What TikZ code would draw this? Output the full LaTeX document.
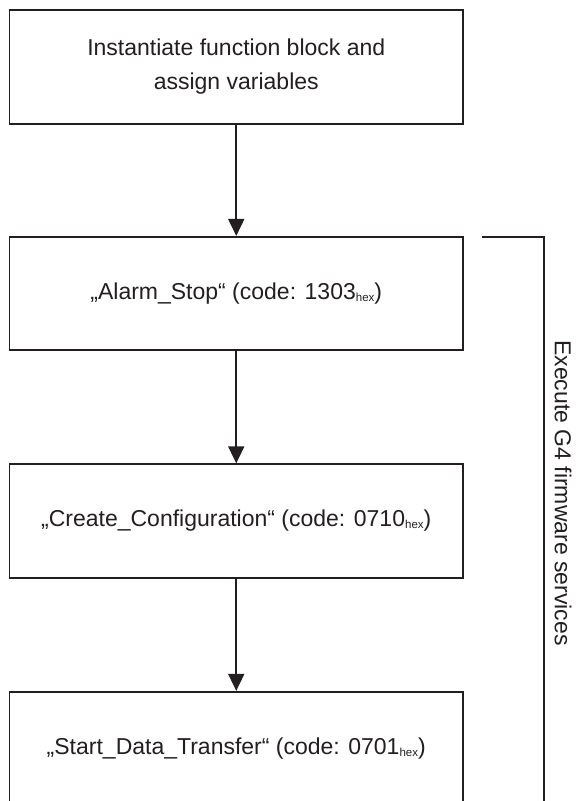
\documentclass[tikz,border=0pt]{standalone}
\usepackage{fontspec}
\setmainfont{Liberation Sans}
\usetikzlibrary{arrows.meta}
\definecolor{ink}{HTML}{231F20}
\newcommand{\hexsub}{\raisebox{-2pt}{\fontsize{11.5}{12}\selectfont hex}}
\begin{document}
\begin{tikzpicture}[x=1pt,y=-1pt,
  box/.style={draw=ink, line width=1.8pt, minimum width=453.5pt, minimum height=113.5pt,
    inner sep=0pt, text=ink, font=\fontsize{23}{34}\selectfont, align=center},
  flow/.style={draw=ink, line width=1.8pt, -{Triangle[width=16pt,length=17pt]}},
  bracket/.style={draw=ink, line width=1.8pt},
  side/.style={text=ink, font=\fontsize{23}{28}\selectfont, rotate=-90, inner sep=0pt}]
\useasboundingbox (0,0) rectangle (576,801);
\fill[white] (0,0) rectangle (576,801);
\clip (0,0) rectangle (576,801);
\node[box] (b1) at (236.25,67) {Instantiate function block and\\assign variables};
\node[box] (b2) at (236.25,293.6) {„Alarm\_Stop“ (code: 1303\hexsub)};
\node[box] (b3) at (236.25,521) {„Create\_Configuration“ (code: 0710\hexsub)};
\node[box] (b4) at (236.25,748.5) {„Start\_Data\_Transfer“ (code: 0701\hexsub)};
\draw[flow] (b1) -- (b2);
\draw[flow] (b2) -- (b3);
\draw[flow] (b3) -- (b4);
\coordinate (brS) at (481.7,236.7);
\coordinate (brC) at (544,236.7);
\coordinate (brE) at (544,830);
\draw[bracket] (brS) -- (brC) -- (brE);
\node[side] (lbl) at (563,493) {Execute G4 firmware services};
\end{tikzpicture}
\end{document}
